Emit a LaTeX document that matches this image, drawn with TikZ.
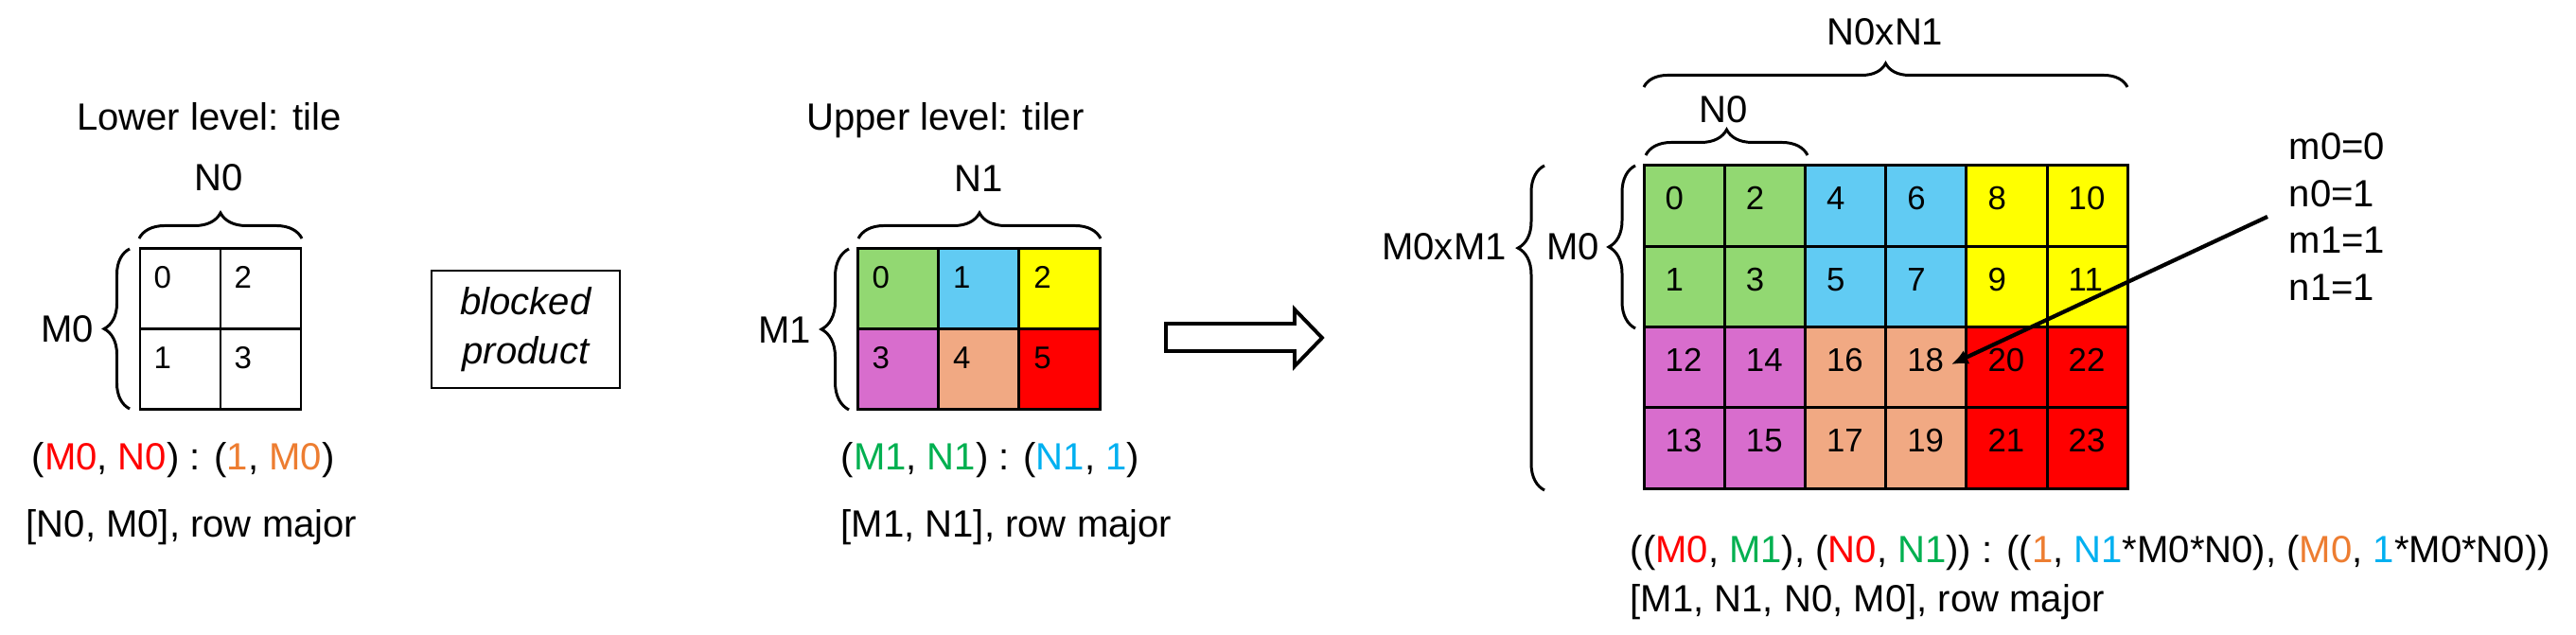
\documentclass[tikz,border=0pt]{standalone}
\usepackage{fontspec}
\setmainfont{Liberation Sans}
\usetikzlibrary{positioning, arrows.meta, decorations.pathreplacing}

\definecolor{tgreen}{RGB}{146,216,114}
\definecolor{tblue}{RGB}{97,203,243}
\definecolor{tyellow}{RGB}{255,255,0}
\definecolor{tpurple}{RGB}{216,109,205}
\definecolor{tsalmon}{RGB}{241,169,131}
\definecolor{tred}{RGB}{255,0,0}
\definecolor{sred}{RGB}{255,0,0}
\definecolor{sorange}{RGB}{237,125,49}
\definecolor{sgreen}{RGB}{0,176,80}
\definecolor{sblue}{RGB}{0,176,240}

\tikzset{
    txt/.style={inner sep=0pt, font=\fontsize{11.4}{14.2}\selectfont},
    gridline/.style={line width=0.85pt},
    smallnum/.style={anchor=base west, inner sep=0pt, font=\fontsize{9.4}{11}\selectfont},
    bignum/.style={anchor=base west, inner sep=0pt, font=\fontsize{9.9}{12}\selectfont},
    curly/.style={decorate, decoration={brace, amplitude=#1}, line width=0.85pt},
}

\begin{document}
\begin{tikzpicture}
    \useasboundingbox (0,0) rectangle (27.22,6.71);

    % Lower level: tile
    \node[txt, anchor=base] (lowtitle) at (2.21, 5.33) {Lower level: tile};
    \foreach \rr in {0,1} {
        \foreach \cc in {0,1} {
            \pgfmathtruncatemacro{\n}{2*\cc+\rr}
            \draw[gridline] ({1.48+0.85*\cc}, {4.08-0.85*\rr}) rectangle ++(0.85,-0.85);
            \node[smallnum] (low\n) at ({1.62+0.85*\cc}, {3.66-0.85*\rr}) {\n};
        }
    }
    \draw[curly=0.27cm] (1.47, 4.19) -- (3.19, 4.19); % N0
    \node[txt, anchor=base] (lowN) at (2.31, 4.69) {N0};
    \draw[curly=0.27cm] (1.37, 2.39) -- (1.37, 4.08); % M0
    \node[txt, anchor=base] (lowM) at (0.71, 3.09) {M0};
    \node[txt, anchor=base west] (lowshape) at (0.33, 1.74)
        {(\textcolor{sred}{M0}, \textcolor{sred}{N0}) : (\textcolor{sorange}{1}, \textcolor{sorange}{M0})};
    \node[txt, anchor=base west] (loworder) at (0.27, 1.03) {[N0, M0], row major};

    % Operation
    \node[draw, line width=0.6pt, minimum width=1.99cm, minimum height=1.24cm, align=center,
        font=\fontsize{11.4}{14.8}\selectfont\itshape] (blocked) at (5.555, 3.23) {blocked\\product};

    % Upper level: tiler
    \node[txt, anchor=base] (uptitle) at (9.99, 5.33) {Upper level: tiler};
    \foreach \col [count=\k from 0] in {tgreen, tblue, tyellow, tpurple, tsalmon, tred} {
        \pgfmathtruncatemacro{\rr}{\k/3}
        \pgfmathtruncatemacro{\cc}{\k-3*\rr}
        \fill[\col] ({9.06+0.853*\cc}, {4.08-0.85*\rr}) rectangle ++(0.853,-0.85);
        \node[smallnum] (up\k) at ({9.21+0.853*\cc}, {3.66-0.85*\rr}) {\k};
    }
    \foreach \cc in {1,2} \draw[gridline] ({9.06+0.853*\cc}, 4.08) -- ({9.06+0.853*\cc}, 2.38);
    \draw[gridline] (9.06, 3.23) -- (11.62, 3.23);
    \draw[gridline] (9.06, 4.08) rectangle (11.62, 2.38); % Border
    \draw[curly=0.27cm] (9.07, 4.19) -- (11.63, 4.19); % N1
    \node[txt, anchor=base] (upN) at (10.34, 4.68) {N1};
    \draw[curly=0.29cm] (8.97, 2.38) -- (8.97, 4.08); % M1
    \node[txt, anchor=base] (upM) at (8.29, 3.08) {M1};
    \node[txt, anchor=base west] (upshape) at (8.88, 1.74)
        {(\textcolor{sgreen}{M1}, \textcolor{sgreen}{N1}) : (\textcolor{sblue}{N1}, \textcolor{sblue}{1})};
    \node[txt, anchor=base west] (uporder) at (8.88, 1.03) {[M1, N1], row major};

    % Hollow arrow
    \draw[line width=1.1pt] (12.32, 3.29) -- (13.68, 3.29) -- (13.68, 3.44) -- (13.97, 3.14)
        -- (13.68, 2.84) -- (13.68, 3.00) -- (12.32, 3.00) -- cycle;

    % Result
    \foreach \br/\bc/\col [count=\k from 0] in {0/0/tgreen, 0/1/tblue, 0/2/tyellow,
        1/0/tpurple, 1/1/tsalmon, 1/2/tred} {
        \foreach \rr in {0,1} {
            \foreach \cc in {0,1} {
                \pgfmathtruncatemacro{\n}{4*\k+2*\cc+\rr}
                \pgfmathsetmacro{\xx}{17.37+0.852*(2*\bc+\cc)}
                \pgfmathsetmacro{\yy}{4.96-0.853*(2*\br+\rr)}
                \fill[\col] (\xx, \yy) rectangle ++(0.852,-0.853);
                \node[bignum] (big\n) at ({\xx+0.22}, {\yy-0.47}) {\n};
            }
        }
    }
    \foreach \cc in {1,...,5} \draw[gridline] ({17.37+0.852*\cc}, 4.96) -- ({17.37+0.852*\cc}, 1.548);
    \foreach \rr in {1,2,3} \draw[gridline] (17.37, {4.96-0.853*\rr}) -- (22.482, {4.96-0.853*\rr});
    \draw[gridline] (17.37, 4.96) rectangle (22.482, 1.548); % Border
    \draw[curly=0.25cm] (17.37, 5.79) -- (22.48, 5.79); % N0xN1
    \node[txt, anchor=base] (bigNN) at (19.92, 6.23) {N0xN1};
    \draw[curly=0.27cm] (17.39, 5.07) -- (19.10, 5.07); % N0
    \node[txt, anchor=base] (bigN) at (18.21, 5.41) {N0};
    \draw[curly=0.28cm] (17.28, 3.24) -- (17.28, 4.96); % M0
    \node[txt, anchor=base] (bigM) at (16.62, 3.96) {M0};
    \draw[curly=0.28cm, decoration={aspect=0.746}] (16.32, 1.53) -- (16.32, 4.96); % M0xM1
    \node[txt, anchor=base] (bigMM) at (15.26, 3.96) {M0xM1};

    % Index of one element
    \node[txt, align=left, anchor=west] (idx) at (24.18, 4.42) {m0=0\\n0=1\\m1=1\\n1=1};
    \coordinate (hit) at (20.62, 2.86);
    \draw[line width=1.2pt, -{Latex[length=5pt, width=4.5pt]}] ([xshift=-2.2mm]idx.west) -- (hit);

    \node[txt, anchor=base west] (bigshape) at (17.22, 0.76)
        {((\textcolor{sred}{M0}, \textcolor{sgreen}{M1}), (\textcolor{sred}{N0}, \textcolor{sgreen}{N1})) : ((\textcolor{sorange}{1}, \textcolor{sblue}{N1}*M0*N0), (\textcolor{sorange}{M0}, \textcolor{sblue}{1}*M0*N0))};
    \node[txt, anchor=base west] (bigorder) at (17.22, 0.24) {[M1, N1, N0, M0], row major};
\end{tikzpicture}
\end{document}
